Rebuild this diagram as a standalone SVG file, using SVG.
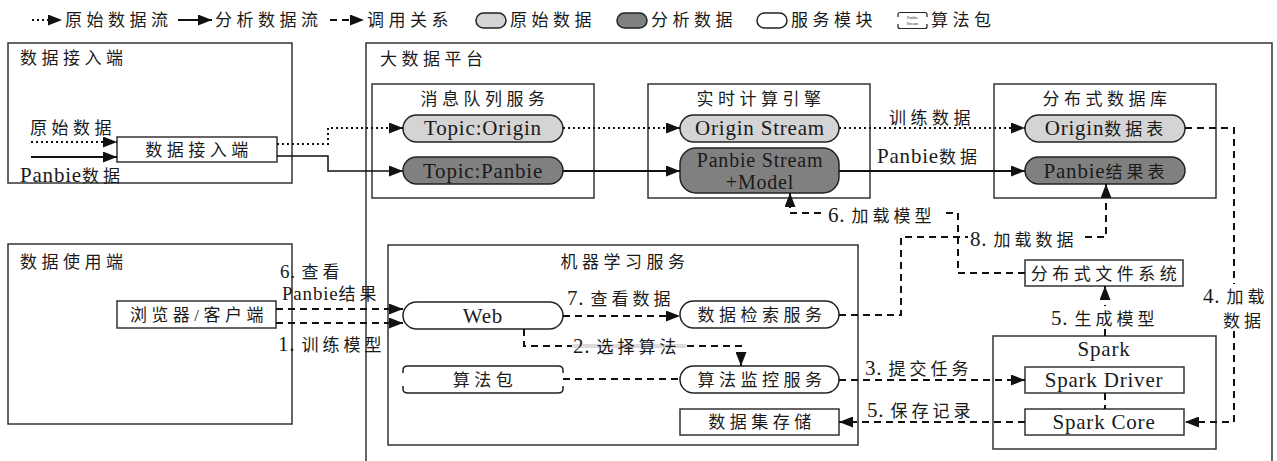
<svg xmlns="http://www.w3.org/2000/svg" width="1277" height="461" viewBox="0 0 1277 461">
<style>
text{font-family:'Liberation Serif','Noto Sans CJK SC',serif;fill:#1a1a1a}
.zh{font-size:17px;letter-spacing:4.5px}
.en{font-size:21px;letter-spacing:0.8px}
.mx{font-size:21px;letter-spacing:0.8px}
.sm{font-size:19px}
.z{font-size:17px;letter-spacing:4px}
.c{text-anchor:middle}
.box{fill:#fff;stroke:#333;stroke-width:1.5}
.cap0{fill:#d4d4d4;stroke:#222;stroke-width:1.5}
.cap1{fill:#808080;stroke:#222;stroke-width:1.5}
.cap2{fill:#fff;stroke:#222;stroke-width:1.5}
.ln{fill:none;stroke:#111;stroke-width:2}
.dot{stroke-dasharray:2 3}
.dash{stroke-dasharray:7 5}
.bg{fill:#fff}
</style>
<defs>
<marker id="ah" markerUnits="userSpaceOnUse" markerWidth="15" markerHeight="11" refX="14" refY="5.5" orient="auto"><path d="M0,0 L14,5.5 L0,11 z" fill="#111"/></marker>
</defs>

<!-- legend -->
<g id="legend">
<path class="ln dot" d="M32,20 H62" marker-end="url(#ah)"/>
<text class="zh" x="65" y="26">原始数据流</text>
<path class="ln" d="M178,20 H212" marker-end="url(#ah)"/>
<text class="zh" x="215" y="26">分析数据流</text>
<path class="ln dash" d="M330,20 H364" marker-end="url(#ah)"/>
<text class="zh" x="367" y="26">调用关系</text>
<rect class="cap0" x="476" y="13" width="30" height="15" rx="7.5"/>
<text class="zh" x="510" y="26">原始数据</text>
<rect class="cap1" x="617" y="13" width="30" height="15" rx="7.5"/>
<text class="zh" x="651" y="26">分析数据</text>
<rect class="cap2" x="757" y="13" width="30" height="15" rx="7.5"/>
<text class="zh" x="791" y="26">服务模块</text>
<path fill="none" stroke="#222" stroke-width="1.2" d="M898,17 V14.5 Q898,12.5 900,12.5 H925 Q927,12.5 927,14.5 V17 M898,24 V26.5 Q898,28.5 900,28.5 H925 Q927,28.5 927,26.5 V24"/>
<text x="912.5" y="19" class="c" style="font-size:4px">Panbie</text>
<text x="912.5" y="25" class="c" style="font-size:4px">Stream</text>
<text class="zh" x="931" y="26">算法包</text>
</g>

<!-- data input side -->
<g id="input-side">
<rect class="box" x="8" y="43" width="284" height="140"/>
<text class="zh" x="20" y="64">数据接入端</text>
<text class="zh" x="30" y="134">原始数据</text>
<text class="mx" x="20" y="182">Panbie<tspan class="z">数据</tspan></text>
</g>
<g id="input-node">
<rect class="box" x="117" y="137" width="160" height="25"/>
<text class="zh c" x="199" y="156">数据接入端</text>
</g>

<!-- data use side -->
<g id="use-side">
<rect class="box" x="8" y="244" width="284" height="180"/>
<text class="zh" x="20" y="268">数据使用端</text>
</g>
<g id="browser">
<rect class="box" x="117" y="301" width="159" height="27"/>
<text class="zh c" x="199" y="321">浏览器/客户端</text>
</g>

<!-- platform -->
<g id="platform">
<path fill="none" stroke="#333" stroke-width="1.5" d="M366,470 V43 H1272 V470"/>
<text class="zh" x="380" y="65">大数据平台</text>
</g>

<g id="mq">
<rect class="box" x="372" y="84" width="222" height="114"/>
<text class="zh c" x="485" y="105">消息队列服务</text>
</g>
<g id="topic-origin">
<rect class="cap0" x="403" y="115" width="160" height="27" rx="13.5"/>
<text class="en c" x="483" y="135">Topic:Origin</text>
</g>
<g id="topic-panbie">
<rect class="cap1" x="403" y="157" width="160" height="27" rx="13.5"/>
<text class="en c" x="483" y="178">Topic:Panbie</text>
</g>

<g id="engine">
<rect class="box" x="648" y="84" width="222" height="114"/>
<text class="zh c" x="761" y="105">实时计算引擎</text>
</g>
<g id="origin-stream">
<rect class="cap0" x="680" y="115" width="159" height="27" rx="13.5"/>
<text class="en c" x="760" y="135">Origin Stream</text>
</g>
<g id="panbie-stream">
<rect class="cap1" x="680" y="148" width="159" height="45" rx="16"/>
<text class="en c" x="760" y="167" style="font-size:20px">Panbie Stream</text>
<text class="en c" x="760" y="189" style="font-size:20px">+Model</text>
</g>

<g id="ddb">
<rect class="box" x="994" y="84" width="222" height="114"/>
<text class="zh c" x="1107" y="105">分布式数据库</text>
</g>
<g id="origin-table">
<rect class="cap0" x="1025" y="115" width="160" height="27" rx="13.5"/>
<text class="mx c" x="1106" y="135">Origin<tspan class="z">数据表</tspan></text>
</g>
<g id="panbie-table">
<rect class="cap1" x="1025" y="157" width="160" height="27" rx="13.5"/>
<text class="mx c" x="1106" y="178">Panbie<tspan class="z">结果表</tspan></text>
</g>

<g id="ml">
<rect class="box" x="388" y="245" width="470" height="200"/>
<text class="zh c" x="625" y="268">机器学习服务</text>
</g>
<g id="web">
<rect class="cap2" x="403" y="302" width="160" height="27" rx="13.5"/>
<text class="en c" x="483" y="323">Web</text>
</g>
<g id="retrieval">
<rect class="cap2" x="680" y="301" width="159" height="27" rx="13.5"/>
<text class="zh c" x="762" y="321">数据检索服务</text>
</g>
<g id="algo-pkg">
<path fill="none" stroke="#222" stroke-width="1.5" d="M403,373 V370 Q403,366 408,366 H558 Q563,366 563,370 V373 M403,386 V389 Q403,393 408,393 H558 Q563,393 563,389 V386"/>
<text class="zh c" x="485" y="386">算法包</text>
</g>
<g id="monitor">
<rect class="cap2" x="680" y="366" width="159" height="27" rx="13.5"/>
<text class="zh c" x="762" y="386">算法监控服务</text>
</g>
<g id="dataset">
<rect class="box" x="680" y="409" width="159" height="26"/>
<text class="zh c" x="762" y="428">数据集存储</text>
</g>

<g id="dfs">
<rect class="box" x="1025" y="260" width="158" height="26"/>
<text class="zh c" x="1106" y="280">分布式文件系统</text>
</g>
<g id="spark">
<rect class="box" x="993" y="336" width="223" height="113"/>
<text class="en c" x="1104" y="356">Spark</text>
</g>
<g id="spark-driver">
<rect class="box" x="1025" y="367" width="159" height="26"/>
<text class="en c" x="1104" y="387">Spark Driver</text>
</g>
<g id="spark-core">
<rect class="box" x="1025" y="409" width="159" height="26"/>
<text class="en c" x="1104" y="429">Spark Core</text>
</g>

<!-- connectors -->
<g id="connectors">
<path class="ln dot" d="M31,142 H117" marker-end="url(#ah)"/>
<path class="ln" d="M31,157 H117" marker-end="url(#ah)"/>
<path class="ln dot" d="M277,144 H328 V128 H403" marker-end="url(#ah)"/>
<path class="ln" style="stroke-width:1.5" d="M277,156 H328 V171 H403" marker-end="url(#ah)"/>
<path class="ln dot" d="M563,128 H680" marker-end="url(#ah)"/>
<path class="ln" d="M563,171 H680" marker-end="url(#ah)"/>
<path class="ln dot" d="M839,128 H1025" marker-end="url(#ah)"/>
<path class="ln" d="M839,171 H1025" marker-end="url(#ah)"/>
<path class="ln dash" d="M1185,128 H1234 V422 H1185" marker-end="url(#ah)"/>
<path class="ln dash" d="M1105,336 V286" marker-end="url(#ah)"/>
<path class="ln dash" d="M1105,393 V409"/>
<path class="ln dash" d="M1025,273 H958 V213 H790 V193" marker-end="url(#ah)"/>
<path class="ln dash" d="M839,315 H901 V237 H1106 V184" marker-end="url(#ah)"/>
<path class="ln dash" d="M276,309 H403" marker-end="url(#ah)"/>
<path class="ln dash" d="M276,323 H403" marker-end="url(#ah)"/>
<path class="ln dash" d="M563,316 H680" marker-end="url(#ah)"/>
<path class="ln dash" d="M524,329 V346 H741 V366" marker-end="url(#ah)"/>
<path class="ln dash" d="M563,379 H680"/>
<path class="ln dash" d="M839,380 H1025" marker-end="url(#ah)"/>
<path class="ln dash" d="M1025,422 H839" marker-end="url(#ah)"/>
</g>

<!-- connector labels -->
<g id="labels">
<text class="zh" x="889" y="124">训练数据</text>
<text class="mx" x="877" y="163">Panbie<tspan class="z">数据</tspan></text>
<text class="mx sm" x="280" y="278">6. <tspan class="z">查看</tspan></text>
<text class="mx sm" x="282" y="300">Panbie<tspan class="z">结果</tspan></text>
<text class="mx" x="278" y="351">1. <tspan class="z">训练模型</tspan></text>
<text class="mx" x="567" y="305">7. <tspan class="z">查看数据</tspan></text>
<rect x="572" y="344" width="114" height="4" fill="#dcdcdc"/>
<text class="mx" x="573" y="353">2. <tspan class="z">选择算法</tspan></text>
<text class="mx" x="865" y="375">3. <tspan class="z">提交任务</tspan></text>
<text class="mx" x="867" y="417">5. <tspan class="z">保存记录</tspan></text>
<rect class="bg" x="826" y="204" width="116" height="20"/>
<text class="mx" x="828" y="222">6. <tspan class="z">加载模型</tspan></text>
<rect class="bg" x="968" y="228" width="114" height="20"/>
<text class="mx" x="970" y="246">8. <tspan class="z">加载数据</tspan></text>
<rect class="bg" x="1049" y="306" width="112" height="22"/>
<text class="mx" x="1051" y="325">5. <tspan class="z">生成模型</tspan></text>
<rect class="bg" x="1201" y="284" width="66" height="46"/>
<text class="mx" x="1203" y="303">4. <tspan class="z">加载</tspan></text>
<text class="mx" x="1223" y="327"><tspan class="z">数据</tspan></text>
</g>
</svg>
